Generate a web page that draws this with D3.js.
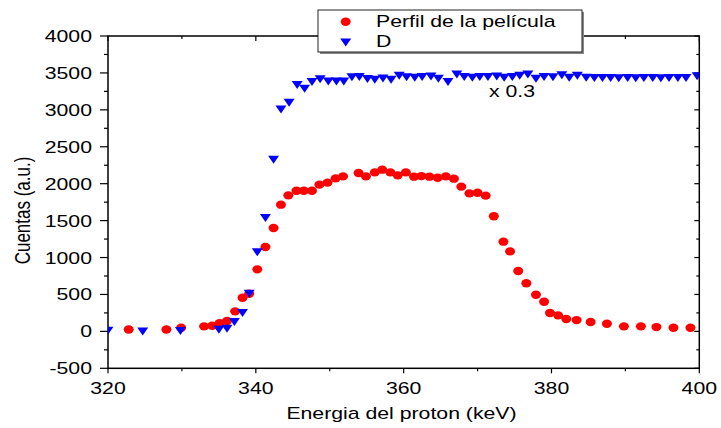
<!DOCTYPE html>
<html><head><meta charset="utf-8">
<script src="https://cdn.jsdelivr.net/npm/d3@7"></script>
<style>body{margin:0;background:#fff}text{font-family:"Liberation Sans",Arial,sans-serif;fill:#000}</style>
</head><body>
<script>
const xTicks=[320,340,360,380,400];
const yTicks=[-500,0,500,1000,1500,2000,2500,3000,3500,4000];
const seriesNames=["Perfil de la película","D"];
const annotation="x 0.3";
const xLabel="Energia del proton (keV)";
const yLabel="Cuentas (a.u.)";
const redE=[322.8,327.9,329.9,333.0,334.1,335.1,336.1,337.2,338.2,339.1,340.2,341.3,342.4,343.4,344.4,345.5,346.5,347.6,348.6,349.7,350.8,351.8,353.9,354.9,356.1,357.1,358.2,359.2,360.3,361.4,362.4,363.5,364.6,365.7,366.8,367.8,368.9,370.0,371.1,372.2,373.5,374.4,375.5,376.6,377.9,379.0,379.8,380.9,382.0,383.4,385.3,387.5,389.8,392.1,394.2,396.5,398.8];
const redC=[25,25,50,68,77,112,140,271,456,510,840,1142,1400,1716,1842,1905,1905,1905,1987,2014,2072,2099,2144,2099,2153,2190,2153,2113,2153,2095,2103,2095,2081,2099,2068,1960,1869,1878,1838,1560,1215,1083,817,652,497,402,248,217,167,153,126,104,68,68,58,50,50];
const blueE=[320.0,324.7,329.8,335.0,336.1,337.1,338.2,339.1,340.2,341.3,342.4,343.4,344.5,345.6,346.6,347.6,348.7,349.8,350.9,351.9,353.0,354.0,355.1,356.1,357.2,358.3,359.4,360.4,361.5,362.5,363.7,364.7,366.0,367.2,368.2,369.3,370.3,371.4,372.6,373.6,374.7,375.7,376.8,377.9,379.0,380.2,381.4,382.4,383.5,384.7,385.8,386.9,388.0,389.1,390.3,391.4,392.5,393.7,394.8,395.9,397.1,398.2,399.7];
const blueC=[10,0,5,23,36,126,248,510,1070,1534,2325,3003,3095,3338,3285,3378,3413,3384,3384,3384,3440,3444,3417,3409,3426,3409,3463,3440,3435,3444,3453,3422,3376,3480,3444,3435,3444,3444,3453,3435,3444,3463,3480,3422,3444,3440,3467,3435,3463,3435,3432,3430,3431,3429,3430,3428,3431,3430,3429,3430,3431,3430,3455];

const W=721,H=428,L=108,R=699.3,T=36,B=368.3,SX=1.25;
const svg=d3.select("body").append("svg").attr("width",W).attr("height",H);
const x=d3.scaleLinear().domain([320,400]).range([L,R]);
const y=d3.scaleLinear().domain([-500,4000]).range([B,T]);
function txt(g,s,tx,ty,anchor,extra){
  return g.append("text").attr("transform",`translate(${tx},${ty}) scale(${SX},1)`+(extra||""))
   .attr("text-anchor",anchor).attr("font-size",17).text(s);
}
svg.append("defs").append("clipPath").attr("id","clip").append("rect")
  .attr("x",L).attr("y",T).attr("width",R-L).attr("height",B-T);

const xMinor=d3.range(320,401,10), yMinor=d3.range(-500,4001,250);
const ax=svg.append("g").attr("stroke","#000").attr("stroke-width",1.2);
// bottom
ax.selectAll(".bt").data(xMinor).join("line").attr("x1",d=>x(d)).attr("x2",d=>x(d))
  .attr("y1",B).attr("y2",d=>B+(xTicks.includes(d)?5:3));
// top (inward)
ax.selectAll(".tt").data(xMinor).join("line").attr("x1",d=>x(d)).attr("x2",d=>x(d))
  .attr("y1",T).attr("y2",d=>T+(xTicks.includes(d)?5:3));
// left
ax.selectAll(".lt").data(yMinor).join("line").attr("y1",d=>y(d)).attr("y2",d=>y(d))
  .attr("x1",L).attr("x2",d=>L-(yTicks.includes(d)?8:4));
// right (inward)
ax.selectAll(".rt").data(yMinor).join("line").attr("y1",d=>y(d)).attr("y2",d=>y(d))
  .attr("x1",R).attr("x2",d=>R-(yTicks.includes(d)?5:3));
ax.append("rect").attr("x",L).attr("y",T).attr("width",R-L).attr("height",B-T).attr("fill","none").attr("stroke-width",1.5);

const lab=svg.append("g");
xTicks.forEach(d=>txt(lab,String(d),x(d),394,"middle"));
yTicks.forEach(d=>txt(lab,String(d),92,y(d)+6,"end"));
txt(lab,xLabel,401.5,419,"middle");
txt(lab,yLabel,30,210.5,"middle"," rotate(-90)");

const plot=svg.append("g").attr("clip-path","url(#clip)");
const red=redE.map((e,i)=>[e,redC[i]]), blue=blueE.map((e,i)=>[e,blueC[i]]);
plot.selectAll(".r").data(red).join("ellipse").attr("cx",d=>x(d[0])).attr("cy",d=>y(d[1]))
  .attr("rx",5).attr("ry",4.2).attr("fill","#ff0000");
const tri=(cx,cy)=>`M${cx-5.5},${cy-4}L${cx+5.5},${cy-4}L${cx},${cy+4}Z`;
plot.selectAll(".b").data(blue).join("path").attr("d",d=>tri(x(d[0]),y(d[1]))).attr("fill","#0000ff");

txt(svg,annotation,489,97,"start");

// legend
const lg=svg.append("g");
lg.append("rect").attr("x",320).attr("y",12).attr("width",264).attr("height",42).attr("fill","#888");
lg.append("rect").attr("x",318).attr("y",10).attr("width",264).attr("height",42).attr("fill","#fff").attr("stroke","#222").attr("stroke-width",1);
lg.append("ellipse").attr("cx",345.7).attr("cy",21.7).attr("rx",5).attr("ry",4.2).attr("fill","#ff0000");
lg.append("path").attr("d",tri(345.7,42.5)).attr("fill","#0000ff");
txt(lg,seriesNames[0],376,27,"start");
txt(lg,seriesNames[1],376,47,"start");
</script>
</body></html>
